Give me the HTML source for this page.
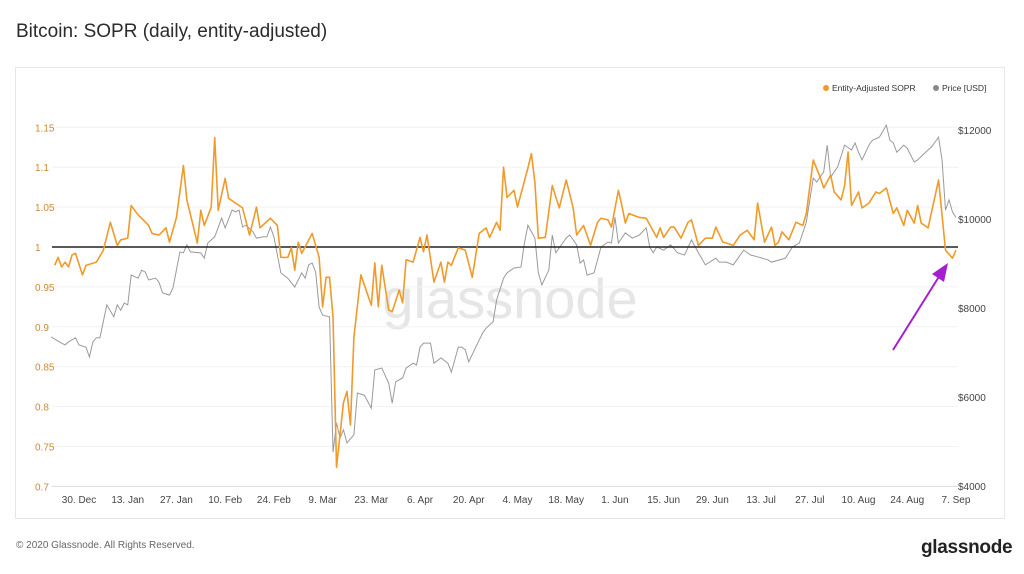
<!DOCTYPE html>
<html><head><meta charset="utf-8"><style>
body{margin:0;width:1024px;height:574px;background:#fff;font-family:"Liberation Sans",sans-serif;overflow:hidden;position:relative}
#title{position:absolute;left:16px;top:21px;font-size:19px;color:#2b2b2b}
#panel{position:absolute;left:15px;top:67px;width:990px;height:452px;border:1px solid #e6e6e6;box-sizing:border-box}
#foot{position:absolute;left:16px;top:540px;font-size:10px;color:#666}
#logo{position:absolute;left:921px;top:537px;font-size:19px;font-weight:bold;color:#222;letter-spacing:-0.3px}
svg{position:absolute;left:0;top:0}
</style></head><body>
<div id="title">Bitcoin: SOPR (daily, entity-adjusted)</div>
<div id="panel"></div>
<div id="foot">© 2020 Glassnode. All Rights Reserved.</div>
<div id="logo">glassnode</div>
<svg id="chart" width="1024" height="574"></svg>
<script>
const soprDays=[-7,-6,-5,-4,-3,-2,-1,1,2,5,7,9,11,12,14,15,17,18,20,21,23,25,26,28,30,31,34,35,36,38,39,40,42,43,45,47,49,51,52,55,57,58,60,61,62,63,64,67,69,70,71,72,73,74,76,77,78,79,81,84,85,86,87,89,90,92,93,94,96,98,99,100,102,104,105,106,107,109,111,113,115,117,118,120,121,122,123,125,126,129,130,131,132,134,136,138,140,142,143,145,147,149,150,152,153,155,156,157,158,161,163,166,167,168,170,171,173,175,176,178,180,182,183,185,186,188,190,192,194,195,197,199,200,201,202,204,206,208,209,211,213,214,216,217,219,220,221,222,224,225,227,229,230,232,234,235,237,238,240,241,242,244,247,249,251,252];
const soprValues=[0.977,0.987,0.975,0.981,0.975,0.990,0.992,0.965,0.977,0.981,0.996,1.031,1.002,1.009,1.011,1.052,1.040,1.036,1.027,1.017,1.015,1.024,1.006,1.037,1.102,1.059,1.005,1.046,1.027,1.050,1.137,1.046,1.086,1.061,1.055,1.049,1.015,1.050,1.024,1.036,1.027,0.987,0.987,0.999,0.971,1.006,0.992,1.017,0.987,0.925,0.962,0.962,0.912,0.724,0.805,0.819,0.777,0.887,0.965,0.927,0.980,0.925,0.977,0.921,0.919,0.946,0.930,0.984,0.981,1.012,0.994,1.015,0.956,0.981,0.956,0.981,0.977,0.999,0.996,0.962,1.017,1.024,1.012,1.031,1.021,1.100,1.062,1.071,1.050,1.099,1.117,1.081,1.011,1.012,1.077,1.049,1.084,1.049,1.015,1.027,1.002,1.031,1.036,1.034,1.025,1.071,1.052,1.030,1.042,1.037,1.036,1.012,1.024,1.012,1.025,1.025,1.011,1.031,1.034,1.002,1.011,1.011,1.025,1.006,1.005,1.002,1.015,1.021,1.009,1.055,1.006,1.025,1.002,1.006,1.019,1.009,1.031,1.027,1.042,1.109,1.087,1.074,1.090,1.069,1.059,1.077,1.119,1.052,1.069,1.049,1.055,1.069,1.067,1.074,1.042,1.049,1.027,1.046,1.030,1.052,1.030,1.024,1.084,0.996,0.986,0.996];
const priceDays=[-8,-5,-4,-3,-1,0,2,3,4,5,6,8,10,11,12,13,14,15,17,18,19,20,22,23,24,26,27,29,30,31,32,35,36,37,39,41,42,44,45,46,47,48,50,51,53,54,55,56,58,60,62,64,65,66,67,68,69,70,72,73,74,75,76,77,79,80,82,84,85,87,89,90,91,93,94,96,97,98,99,101,102,104,106,107,109,110,111,112,114,116,117,119,120,122,123,125,127,128,129,131,132,133,135,136,137,140,141,143,144,145,146,148,150,152,153,154,155,157,159,161,163,164,165,166,168,170,172,174,176,178,180,183,184,186,188,190,191,193,195,198,199,203,205,207,209,211,212,214,215,216,218,220,222,223,224,225,227,228,230,232,233,234,235,237,238,240,241,243,245,247,248,249,250,251,252];
const priceValues=[7350,7210,7170,7240,7330,7170,7120,6900,7240,7330,7330,8070,7800,8070,7950,8110,8070,8740,8670,8850,8810,8630,8670,8580,8340,8290,8450,9260,9240,9420,9260,9240,9120,9460,9600,10020,9800,10200,10160,10200,9820,9860,9710,9570,9600,9600,9820,9600,8790,8670,8470,8790,8670,8970,9010,8810,8020,7840,7800,4760,5420,5080,5260,4970,5150,6090,6040,5750,6610,6650,6310,5860,6340,6430,6650,6760,6720,7120,7210,7210,6760,6880,6760,6560,7120,7120,7060,6790,7120,7440,7550,7690,8180,8670,8790,8900,8920,9460,9860,9570,8790,8520,8850,9640,9240,9570,9640,9420,9010,9080,8740,8790,9370,9480,9460,10040,9460,9690,9570,9640,9800,9370,9240,9370,9300,9420,9240,9190,9530,9240,8970,9120,9030,9030,8970,9190,9300,9190,9150,9080,9030,9120,9370,9460,9930,10920,10830,11060,11660,10940,11170,11660,11550,11710,11500,11330,11660,11770,11840,12110,11770,11710,11500,11660,11590,11280,11330,11480,11620,11840,11330,10200,10430,10160,10040];
const leftTicks=[0.7,0.75,0.8,0.85,0.9,0.95,1,1.05,1.1,1.15];
const rightTicks=[4000,6000,8000,10000,12000];
const xLabels=["30. Dec","13. Jan","27. Jan","10. Feb","24. Feb","9. Mar","23. Mar","6. Apr","20. Apr","4. May","18. May","1. Jun","15. Jun","29. Jun","13. Jul","27. Jul","10. Aug","24. Aug","7. Sep"];
const xLabelDays=[0,14,28,42,56,70,84,98,112,126,140,154,168,182,196,210,224,238,252];

const svg=document.getElementById('chart');const NS='http://www.w3.org/2000/svg';
const X0=52,X1=958;
function xs(d){return 79+d*3.48;}
function yl(v){return 247-(v-1)/0.05*39.9;}
function yr(p){return 486-(p-4000)/2000*89;}
function mk(t,a){const e=document.createElementNS(NS,t);for(const k in a)e.setAttribute(k,a[k]);svg.appendChild(e);return e;}
let wm=mk('text',{x:510,y:318,'text-anchor':'middle','font-size':56,fill:'#e6e6e6','font-family':'Liberation Sans, sans-serif'});


wm.textContent='glassnode';
leftTicks.forEach(v=>{
  const y=yl(v);
  if(v!==1&&v!==0.7){const g=mk('line',{x1:X0,x2:X1,y1:y,y2:y,stroke:'#f2f2f2','stroke-width':1});
  
  }
  const t=mk('text',{x:35,y:y+4,'font-size':10,fill:'#c98a32','font-family':'Liberation Sans, sans-serif'});
  
  
  t.textContent=String(v);
});
rightTicks.forEach(p=>{
  const t=mk('text',{x:958,y:yr(p)+4,'font-size':10,fill:'#444','font-family':'Liberation Sans, sans-serif'});
  
  
  t.textContent='$'+p;
});
let ax=mk('line',{x1:X0,x2:X1,y1:yl(0.7),y2:yl(0.7),stroke:'#dcdcdc','stroke-width':1});


xLabels.forEach((l,i)=>{
  const t=mk('text',{x:xs(xLabelDays[i]),y:503,'text-anchor':'middle','font-size':10,fill:'#444','font-family':'Liberation Sans, sans-serif'});
  
  
  t.textContent=l;
});
let pp=mk('polyline',{points:priceDays.map((d,i)=>xs(d)+','+yr(priceValues[i])).join(' '),fill:'none',stroke:'#9a9a9a','stroke-width':1});


let ref=mk('line',{x1:X0,x2:X1,y1:yl(1),y2:yl(1),stroke:'#222','stroke-width':1.5});


let sp=mk('polyline',{points:soprDays.map((d,i)=>xs(d)+','+yl(soprValues[i])).join(' '),fill:'none',stroke:'#f09a2a','stroke-width':1.6,'stroke-linejoin':'round'});


let ar=mk('line',{x1:893,y1:350,x2:940,y2:275,stroke:'#a51fd0','stroke-width':2});


let ah=mk('polygon',{points:'948,263 932,274 944,282',fill:'#a51fd0'});


let c1=mk('circle',{cx:826,cy:88,r:3,fill:'#f09a2a'});


let l1=mk('text',{x:832,y:91,'font-size':8.5,fill:'#333','font-family':'Liberation Sans, sans-serif'});


l1.textContent='Entity-Adjusted SOPR';
let c2=mk('circle',{cx:936,cy:88,r:3,fill:'#888'});


let l2=mk('text',{x:942,y:91,'font-size':8.5,fill:'#333','font-family':'Liberation Sans, sans-serif'});


l2.textContent='Price [USD]';
</script>
</body></html>
